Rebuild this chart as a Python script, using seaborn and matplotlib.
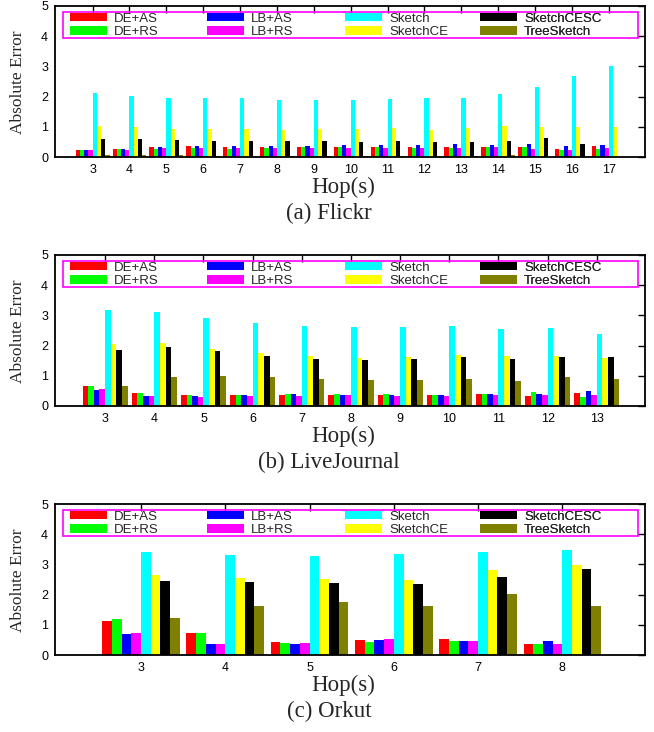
import matplotlib
matplotlib.use("Agg")
import matplotlib.pyplot as plt
from matplotlib.patches import Rectangle
import pandas as pd
import seaborn as sns

# ---------------------------------------------------------------
# data
# ---------------------------------------------------------------
methods = ["DE+AS", "DE+RS", "LB+AS", "LB+RS",
           "Sketch", "SketchCE", "SketchCESC", "TreeSketch"]
colors = ["#ff0000", "#00ff00", "#0000ff", "#ff00ff",
          "#00ffff", "#ffff00", "#000000", "#808000"]

# (a) Flickr
flickr_hops = [3, 4, 5, 6, 7, 8, 9, 10, 11, 12, 13, 14, 15, 16, 17]
flickr_de_as = [0.24, 0.27, 0.34, 0.35, 0.34, 0.34, 0.34, 0.34, 0.34, 0.34, 0.34, 0.34, 0.34, 0.27, 0.37]
flickr_de_rs = [0.24, 0.25, 0.28, 0.30, 0.27, 0.30, 0.34, 0.34, 0.34, 0.31, 0.31, 0.34, 0.34, 0.24, 0.25]
flickr_lb_as = [0.24, 0.27, 0.34, 0.37, 0.37, 0.37, 0.38, 0.41, 0.41, 0.41, 0.42, 0.41, 0.44, 0.37, 0.40]
flickr_lb_rs = [0.24, 0.24, 0.29, 0.30, 0.29, 0.29, 0.30, 0.31, 0.30, 0.31, 0.31, 0.34, 0.27, 0.22, 0.31]
flickr_sketch = [2.12, 2.03, 1.97, 1.94, 1.94, 1.90, 1.90, 1.90, 1.93, 1.94, 1.94, 2.10, 2.31, 2.68, 3.01]
flickr_ce = [1.04, 0.98, 0.93, 0.93, 0.93, 0.90, 0.92, 0.92, 0.97, 0.90, 0.95, 1.04, 1.00, 1.00, 1.00]
flickr_cesc = [0.60, 0.58, 0.55, 0.54, 0.54, 0.53, 0.52, 0.51, 0.54, 0.51, 0.51, 0.54, 0.64, 0.44, 0.00]
flickr_tree = [0.08, 0.07, 0.05, 0.04, 0.04, 0.04, 0.04, 0.04, 0.04, 0.04, 0.04, 0.05, 0.01, 0.00, 0.00]

# (b) LiveJournal
lj_hops = [3, 4, 5, 6, 7, 8, 9, 10, 11, 12, 13]
lj_de_as = [0.66, 0.42, 0.35, 0.36, 0.36, 0.38, 0.38, 0.36, 0.39, 0.34, 0.43]
lj_de_rs = [0.65, 0.42, 0.35, 0.37, 0.40, 0.41, 0.41, 0.37, 0.40, 0.46, 0.30]
lj_lb_as = [0.53, 0.33, 0.32, 0.36, 0.40, 0.38, 0.38, 0.36, 0.40, 0.39, 0.49]
lj_lb_rs = [0.56, 0.33, 0.29, 0.33, 0.34, 0.35, 0.34, 0.33, 0.36, 0.35, 0.38]
lj_sketch = [3.18, 3.12, 2.90, 2.74, 2.65, 2.62, 2.63, 2.64, 2.56, 2.58, 2.38]
lj_ce = [2.05, 2.08, 1.89, 1.75, 1.66, 1.60, 1.63, 1.69, 1.66, 1.67, 1.60]
lj_cesc = [1.85, 1.96, 1.81, 1.67, 1.56, 1.52, 1.56, 1.61, 1.57, 1.62, 1.63]
lj_tree = [0.66, 0.97, 1.00, 0.95, 0.89, 0.86, 0.86, 0.89, 0.83, 0.95, 0.88]

# (c) Orkut
ork_hops = [3, 4, 5, 6, 7, 8]
ork_de_as = [1.14, 0.74, 0.44, 0.51, 0.53, 0.37]
ork_de_rs = [1.18, 0.74, 0.41, 0.43, 0.45, 0.37]
ork_lb_as = [0.71, 0.38, 0.35, 0.51, 0.48, 0.46]
ork_lb_rs = [0.74, 0.38, 0.40, 0.54, 0.48, 0.37]
ork_sketch = [3.41, 3.31, 3.28, 3.33, 3.41, 3.47]
ork_ce = [2.66, 2.54, 2.51, 2.50, 2.81, 2.99]
ork_cesc = [2.44, 2.41, 2.38, 2.36, 2.58, 2.84]
ork_tree = [1.23, 1.61, 1.74, 1.63, 2.01, 1.63]

panels = [
    ("(a) Flickr", flickr_hops,
     [flickr_de_as, flickr_de_rs, flickr_lb_as, flickr_lb_rs,
      flickr_sketch, flickr_ce, flickr_cesc, flickr_tree]),
    ("(b) LiveJournal", lj_hops,
     [lj_de_as, lj_de_rs, lj_lb_as, lj_lb_rs,
      lj_sketch, lj_ce, lj_cesc, lj_tree]),
    ("(c) Orkut", ork_hops,
     [ork_de_as, ork_de_rs, ork_lb_as, ork_lb_rs,
      ork_sketch, ork_ce, ork_cesc, ork_tree]),
]

# ---------------------------------------------------------------
# figure
# ---------------------------------------------------------------
sns.set_theme(style="white")
plt.rcParams["font.family"] = ["Liberation Sans", "DejaVu Sans"]
serif = ["Liberation Serif", "DejaVu Serif"]

W, H = 654, 732
fig = plt.figure(figsize=(W / 100, H / 100), dpi=100)

ax_left, ax_right = 55, 645
ax_w = ax_right - ax_left
ax_tops = [6, 255, 504]      # pixel rows of the top of each axes
ax_h = 151

# legend columns (pixel x of the swatch) and frame
leg_cols = [70, 207, 345, 480]
leg_frame = (63, 6, 638, 32)   # x0, y0, x1, y1 in px; y from axes top

for i, (caption, hops, series) in enumerate(panels):
    top = ax_tops[i]
    ax = fig.add_axes([ax_left / W, 1 - (top + ax_h) / H,
                       ax_w / W, ax_h / H])

    rows = []
    for m, vals in zip(methods, series):
        for h, v in zip(hops, vals):
            rows.append({"hop": str(h), "method": m, "value": v})
    df = pd.DataFrame(rows)

    sns.barplot(data=df, x="hop", y="value", hue="method",
                order=[str(h) for h in hops], hue_order=methods,
                palette=colors, width=0.92, gap=0, errorbar=None,
                linewidth=0, saturation=1, ax=ax)

    ax.set_xlim(-1.02, len(hops) - 0.02)
    ax.set_ylim(0, 5)
    ax.set_yticks([0, 1, 2, 3, 4, 5])
    ax.set_xlabel("")
    ax.set_ylabel("")
    ax.tick_params(direction="in", length=5, width=1, top=True, right=True,
                   labelsize=9, colors="black", pad=5)
    for sp in ax.spines.values():
        sp.set_color("black")
        sp.set_linewidth(1.3)

    # legend: four columns of two entries, in a magenta box
    handles, labels = ax.get_legend_handles_labels()
    ax.get_legend().remove()
    mid = 1 - 19.5 / ax_h
    for j, xpx in enumerate(leg_cols):
        lg = ax.legend(handles[2 * j:2 * j + 2], labels[2 * j:2 * j + 2],
                       loc="center left",
                       bbox_to_anchor=((xpx - ax_left) / ax_w, mid),
                       frameon=False, fontsize=9.5, handlelength=2.8,
                       handleheight=0.6, handletextpad=0.55,
                       borderpad=0, borderaxespad=0, labelspacing=0.12)
        ax.add_artist(lg)
    x0, y0, x1, y1 = leg_frame
    ax.add_patch(Rectangle(((x0 - ax_left) / ax_w, 1 - y1 / ax_h),
                           (x1 - x0) / ax_w, (y1 - y0) / ax_h,
                           transform=ax.transAxes, fill=False,
                           edgecolor="#ff00ff", linewidth=1.2,
                           clip_on=False, zorder=5))

    # axis titles and caption
    fig.text(18 / W, 1 - (top + 76) / H, "Absolute Error", rotation=90,
             ha="center", va="center", fontsize=12.5, family=serif)
    fig.text(343 / W, 1 - (top + 181) / H, "Hop(s)", ha="center",
             va="center", fontsize=16.5, family=serif)
    fig.text(329 / W, 1 - (top + 207) / H, caption, ha="center",
             va="center", fontsize=16.5, family=serif)

fig.savefig("out.png", dpi=100)
